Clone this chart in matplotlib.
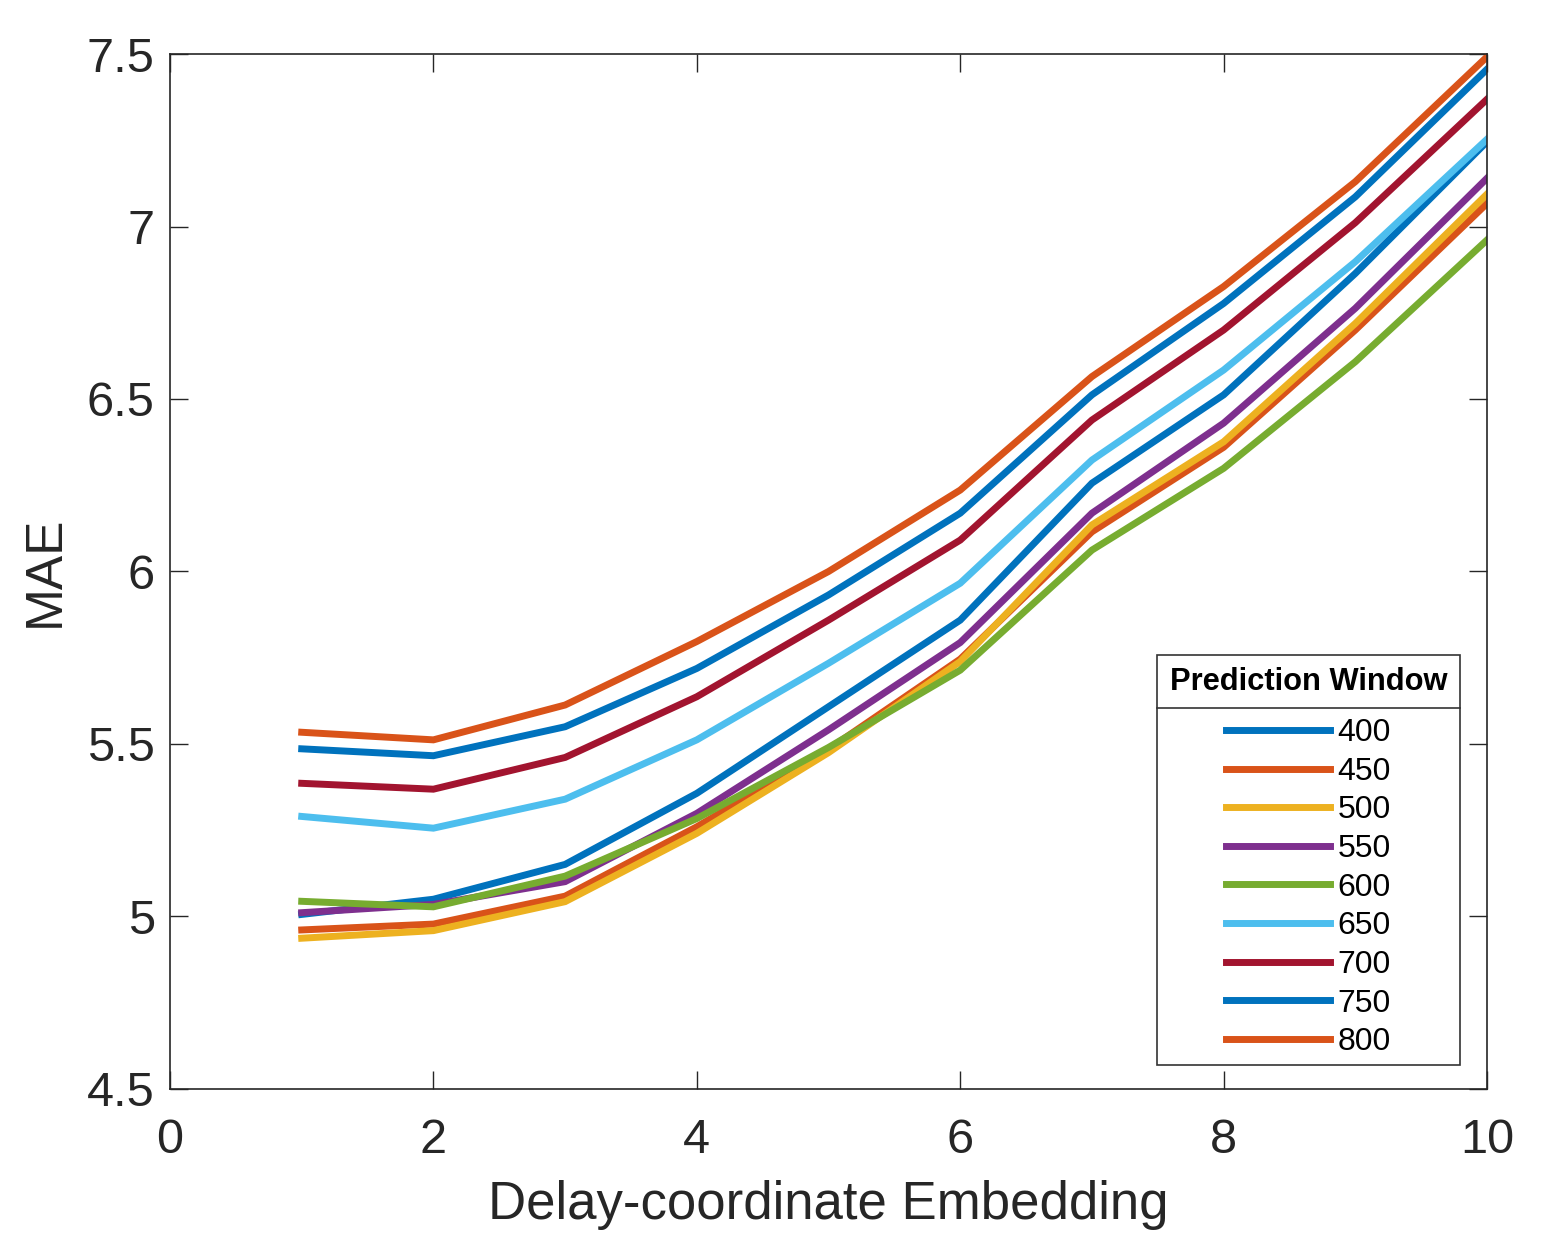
import matplotlib
matplotlib.use('Agg')
import matplotlib.pyplot as plt
from matplotlib.lines import Line2D
from matplotlib.patches import Rectangle
from matplotlib.ticker import FuncFormatter

plt.rcParams['font.family'] = ['Liberation Sans', 'DejaVu Sans']

# Delay-coordinate embedding dimension
embedding = [1, 2, 3, 4, 5, 6, 7, 8, 9, 10]

# MAE per prediction window
windows = ['400', '450', '500', '550', '600', '650', '700', '750', '800']
mae_400 = [5.006, 5.050, 5.151, 5.357, 5.608, 5.859, 6.256, 6.512, 6.864, 7.246]
mae_450 = [4.961, 4.978, 5.059, 5.260, 5.485, 5.746, 6.115, 6.360, 6.700, 7.067]
mae_500 = [4.937, 4.959, 5.043, 5.241, 5.475, 5.739, 6.135, 6.376, 6.719, 7.094]
mae_550 = [5.011, 5.035, 5.101, 5.299, 5.541, 5.794, 6.169, 6.430, 6.763, 7.140]
mae_600 = [5.044, 5.028, 5.117, 5.284, 5.490, 5.714, 6.062, 6.299, 6.608, 6.961]
mae_650 = [5.290, 5.256, 5.340, 5.512, 5.734, 5.966, 6.323, 6.584, 6.898, 7.253]
mae_700 = [5.386, 5.369, 5.461, 5.637, 5.859, 6.091, 6.439, 6.700, 7.011, 7.369]
mae_750 = [5.486, 5.466, 5.550, 5.719, 5.932, 6.169, 6.512, 6.777, 7.086, 7.456]
mae_800 = [5.534, 5.512, 5.613, 5.797, 6.000, 6.236, 6.565, 6.826, 7.130, 7.492]

all_mae = [mae_400, mae_450, mae_500, mae_550, mae_600,
           mae_650, mae_700, mae_750, mae_800]

# MATLAB default colour order (wraps after 7)
colors = ['#0072BD', '#D95319', '#EDB120', '#7E2F8E', '#77AC30',
          '#4DBEEE', '#A2142F', '#0072BD', '#D95319']

xticks = [0, 2, 4, 6, 8, 10]
yticks = [4.5, 5, 5.5, 6, 6.5, 7, 7.5]

fig = plt.figure(figsize=(15.64, 12.33), dpi=100)
ax = fig.add_axes([0.1087, 0.1168, 0.8421, 0.8394])

for vals, name, c in zip(all_mae, windows, colors):
    ax.plot(embedding, vals, color=c, linewidth=5, label=name,
            solid_joinstyle='miter')

ax.set_xlim(0, 10)
ax.set_ylim(4.5, 7.5)
ax.set_xticks(xticks)
ax.set_yticks(yticks)
ax.yaxis.set_major_formatter(FuncFormatter(lambda v, p: '%g' % v))

axis_color = '#262626'
for sp in ax.spines.values():
    sp.set_color(axis_color)
    sp.set_linewidth(1.2)
ax.tick_params(direction='in', length=13, width=1.0, colors=axis_color,
               labelsize=35, top=True, right=True)
ax.tick_params(axis='x', pad=21)
ax.tick_params(axis='y', pad=11)

ax.set_xlabel('Delay-coordinate Embedding', fontsize=38, color=axis_color, labelpad=12)
ax.set_ylabel('MAE', fontsize=37, color=axis_color, labelpad=12)

leg = ax.legend(loc='lower right', bbox_to_anchor=(0.9795, 0.0184),
                borderaxespad=0, fontsize=23, title='Prediction Window',
                title_fontproperties={'weight': 'bold', 'size': 22.2},
                frameon=False,
                handlelength=3.26, handletextpad=0.22, labelspacing=0.27,
                borderpad=0.4)
# more room between title and entries (points)
leg._legend_box.sep = 15

# box + separator under the title drawn by hand, like MATLAB
fig.canvas.draw()
r = fig.canvas.get_renderer()
W, H = fig.get_size_inches() * fig.dpi
box = leg.get_window_extent(r)
title_bb = leg.get_title().get_window_extent(r)
first_bb = leg.get_texts()[0].get_window_extent(r)
last_bb = leg.get_texts()[-1].get_window_extent(r)
bottom = (last_bb.y0 + last_bb.y1) / 2.0 - 23
sep_y = (title_bb.y0 + first_bb.y1) / 2.0

fig.add_artist(Rectangle((box.x0 / W, bottom / H), (box.x1 - box.x0) / W,
                         (box.y1 - bottom) / H, transform=fig.transFigure,
                         facecolor='none', edgecolor='#333333', linewidth=1.2))
fig.add_artist(Line2D([box.x0 / W, box.x1 / W], [sep_y / H, sep_y / H],
                      transform=fig.transFigure, color='#333333', linewidth=1.2))

fig.savefig('out.png', dpi=100)
